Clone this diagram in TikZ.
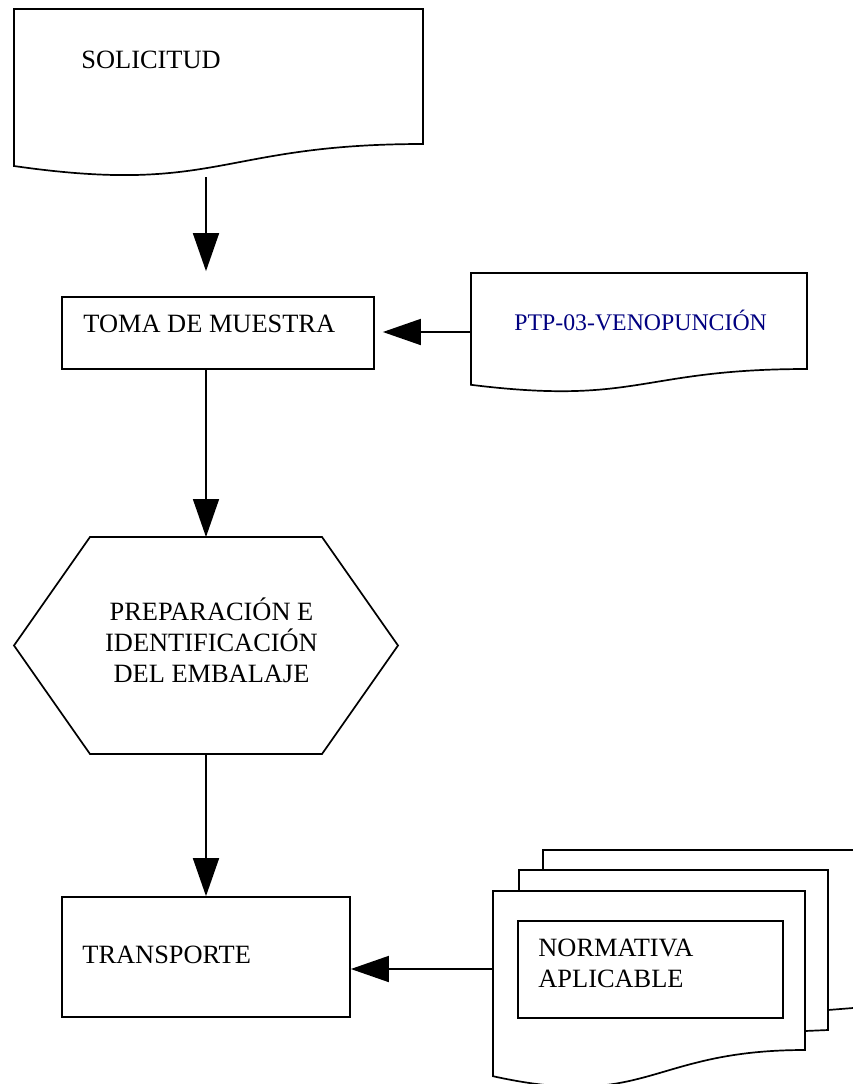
\documentclass[tikz,border=0pt]{standalone}
\usepackage{fontspec}
\setmainfont{Liberation Serif}
\usetikzlibrary{arrows.meta}
\definecolor{azulptp}{RGB}{0,0,128}

\begin{document}
\begin{tikzpicture}[x=0.5pt, y=-0.5pt,
	linea/.style={line width=0.85pt},
	caja/.style={draw, line width=0.85pt, inner sep=0pt},
	flecha/.style={line width=0.85pt, -{Triangle[length=19pt, width=13pt]}},
	texto/.style={font=\fontsize{13.2pt}{15.3pt}\selectfont, inner sep=0pt}]
	\useasboundingbox (0,0) rectangle (853,1084);
	% documentos
	\draw[linea] (423,144) .. controls (218.5,144) and (218.5,195.4) .. (14,166) -- (14,9) -- (423,9) -- cycle;
	\node[texto, anchor=base west] (solicitud) at (81,68) {SOLICITUD};
	\draw[linea] (807,369) .. controls (639,369) and (639,405.6) .. (471,384.8) -- (471,273) -- (807,273) -- cycle;
	\node[texto, anchor=base west, text=azulptp, font=\fontsize{11.9pt}{14pt}\selectfont] (ptp) at (514,330) {PTP-03-VENOPUNCIÓN};
	\draw[linea] (543,870) -- (543,850) -- (853,850);
	\draw[linea] (828,1010) -- (853,1008);
	\draw[linea] (519,891) -- (519,870) -- (828,870) -- (828,1030) -- (805,1031);
	\draw[linea] (805,1050) .. controls (649,1050) and (649,1110.6) .. (493,1076.2) -- (493,891) -- (805,891) -- cycle;
	\node[caja, minimum width=132.5pt, minimum height=48.5pt] (marco) at (650.5,969.5) {};
	\node[texto, anchor=base west, align=left] (normativa) at (538,987) {NORMATIVA\\APLICABLE};
	% procesos
	\node[caja, minimum width=156pt, minimum height=36pt] (toma) at (218,333) {};
	\node[texto, anchor=base west] (tomatxt) at (83,332) {TOMA DE MUESTRA};
	\draw[linea] (14,645.5) -- (90,537) -- (322,537) -- (398,645.5) -- (322,754) -- (90,754) -- cycle;
	\coordinate (hexN) at (206,537);
	\coordinate (hexS) at (206,754);
	\node[texto, anchor=base, align=center] (prep) at (211.5,682) {PREPARACIÓN E\\IDENTIFICACIÓN\\DEL EMBALAJE};
	\node[caja, minimum width=144pt, minimum height=60pt] (transporte) at (206,957) {};
	\node[texto, anchor=base west] (transptxt) at (82,963) {TRANSPORTE};
	% flechas
	\coordinate (solbase) at (206,177);
	\draw[flecha, shorten >=12.5pt] (solbase) -- (solbase |- toma.north);
	\draw[flecha] (toma.south -| hexN) -- (hexN);
	\draw[flecha] (hexS) -- (transporte.north);
	\coordinate (ptpizq) at (471,332);
	\draw[flecha, shorten >=4pt] (ptpizq) -- (toma.east |- ptpizq);
	\coordinate (multizq) at (493,969);
	\draw[flecha] (multizq) -- (transporte.east |- multizq);
\end{tikzpicture}
\end{document}
